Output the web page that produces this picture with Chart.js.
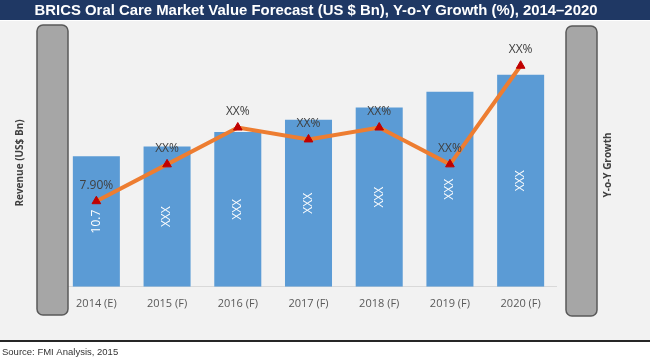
<!DOCTYPE html>
<html>
<head>
<meta charset="utf-8">
<script src="https://cdn.jsdelivr.net/npm/chart.js@4.4.0/dist/chart.umd.min.js"></script>
<style>
  html, body { margin: 0; padding: 0; background: #fff; }
  #wrap { width: 650px; height: 363px; position: relative; }
</style>
</head>
<body>
<div id="wrap"><canvas id="chart" width="650" height="363"></canvas></div>
<script>
// values
const years = ['2014 (E)', '2015 (F)', '2016 (F)', '2017 (F)', '2018 (F)', '2019 (F)', '2020 (F)'];
const revenue = [10.7, 11.5, 12.7, 13.7, 14.7, 16.0, 17.4];
const revenueLabels = ['10.7', 'XXX', 'XXX', 'XXX', 'XXX', 'XXX', 'XXX'];
const growth = [7.9, 11.3, 14.7, 13.6, 14.7, 11.3, 20.4];
const growthLabels = ['7.90%', 'XX%', 'XX%', 'XX%', 'XX%', 'XX%', 'XX%'];

const titleText = 'BRICS Oral Care Market Value Forecast (US $ Bn), Y-o-Y Growth (%), 2014\u20132020';
const sourceText = 'Source: FMI Analysis, 2015';

function roundBox(ctx, x, y, w, h, r) {
    ctx.beginPath();
    ctx.moveTo(x + r, y);
    ctx.arcTo(x + w, y, x + w, y + h, r);
    ctx.arcTo(x + w, y + h, x, y + h, r);
    ctx.arcTo(x, y + h, x, y, r);
    ctx.arcTo(x, y, x + w, y, r);
    ctx.closePath();
    ctx.fillStyle = '#a6a6a6';
    ctx.fill();
    ctx.lineWidth = 1.5;
    ctx.strokeStyle = '#595959';
    ctx.stroke();
}

// background, title bar, source line
const decor = {
    id: 'decor',
    beforeDraw(chart) {
        const ctx = chart.ctx;
        ctx.save();
        ctx.fillStyle = '#ffffff';
        ctx.fillRect(0, 0, 650, 363);
        ctx.fillStyle = '#f2f2f2';
        ctx.fillRect(0, 21, 650, 319);
        ctx.fillStyle = '#1f3864';
        ctx.fillRect(0, 0, 650, 20);

        ctx.fillStyle = '#ffffff';
        ctx.font = 'bold 15.5px "Liberation Sans", Arial, sans-serif';
        ctx.textAlign = 'center';
        ctx.textBaseline = 'middle';
        ctx.fillText(titleText, 316, 11, 563);

        ctx.fillStyle = '#262626';
        ctx.fillRect(0, 340, 650, 2);

        ctx.fillStyle = '#333333';
        ctx.font = '9.5px "Liberation Sans", Arial, sans-serif';
        ctx.textAlign = 'left';
        ctx.fillText(sourceText, 2, 352);

        // axis titles
        ctx.fillStyle = '#404040';
        ctx.font = 'bold 10px "Open Sans", sans-serif';
        ctx.textAlign = 'center';
        ctx.save();
        ctx.translate(20, 163);
        ctx.rotate(-Math.PI / 2);
        ctx.fillText('Revenue (US$ Bn)', 0, 0);
        ctx.restore();
        ctx.save();
        ctx.translate(608, 165);
        ctx.rotate(-Math.PI / 2);
        ctx.fillText('Y-o-Y Growth', 0, 0);
        ctx.restore();
        ctx.restore();
    },
    afterDraw(chart) {
        const ctx = chart.ctx;
        ctx.save();
        roundBox(ctx, 37, 25, 31, 290, 6);
        roundBox(ctx, 566, 26, 31, 290, 6);
        ctx.restore();
    }
};

// value labels on bars and line points
const valueLabels = {
    id: 'valueLabels',
    afterDatasetsDraw(chart) {
        const ctx = chart.ctx;
        ctx.save();
        ctx.textAlign = 'center';
        ctx.textBaseline = 'middle';

        const barMeta = chart.getDatasetMeta(1);
        ctx.fillStyle = '#ffffff';
        ctx.font = '12px "Open Sans", sans-serif';
        barMeta.data.forEach((bar, i) => {
            ctx.save();
            ctx.translate(bar.x, (bar.y + bar.base) / 2);
            ctx.rotate(-Math.PI / 2);
            ctx.fillText(revenueLabels[i], 0, 0);
            ctx.restore();
        });

        const lineMeta = chart.getDatasetMeta(0);
        ctx.fillStyle = '#404040';
        ctx.font = '12px "Open Sans", sans-serif';
        lineMeta.data.forEach((pt, i) => {
            ctx.fillText(growthLabels[i], pt.x, pt.y - 16);
        });
        ctx.restore();
    }
};

const ctx = document.getElementById('chart').getContext('2d');
const chart = new Chart(ctx, {
    type: 'bar',
    data: {
        labels: years,
        datasets: [{
            type: 'line',
            label: 'Y-o-Y Growth',
            data: growth,
            yAxisID: 'y1',
            borderColor: '#ed7d31',
            borderWidth: 4,
            tension: 0,
            pointStyle: 'triangle',
            pointRadius: 5,
            pointBackgroundColor: '#c00000',
            pointBorderColor: '#c00000',
            pointBorderWidth: 1,
            order: 0
        }, {
            type: 'bar',
            label: 'Revenue',
            data: revenue,
            yAxisID: 'y',
            backgroundColor: '#5b9bd5',
            categoryPercentage: 0.665,
            barPercentage: 1,
            order: 1
        }]
    },
    options: {
        responsive: false,
        animation: false,
        layout: { padding: { left: 61, right: 94, top: 43, bottom: 43 } },
        plugins: {
            legend: { display: false },
            tooltip: { enabled: false }
        },
        scales: {
            x: {
                grid: { display: false, drawTicks: false },
                border: { color: '#d9d9d9', width: 1 },
                ticks: {
                    color: '#595959',
                    font: { family: '"Open Sans", sans-serif', size: 11 },
                    padding: 10,
                    maxRotation: 0
                }
            },
            y: { display: false, min: 0, max: 20 },
            y1: { display: false, min: 0, max: 22.5, position: 'right' }
        }
    },
    plugins: [decor, valueLabels]
});
</script>
</body>
</html>
